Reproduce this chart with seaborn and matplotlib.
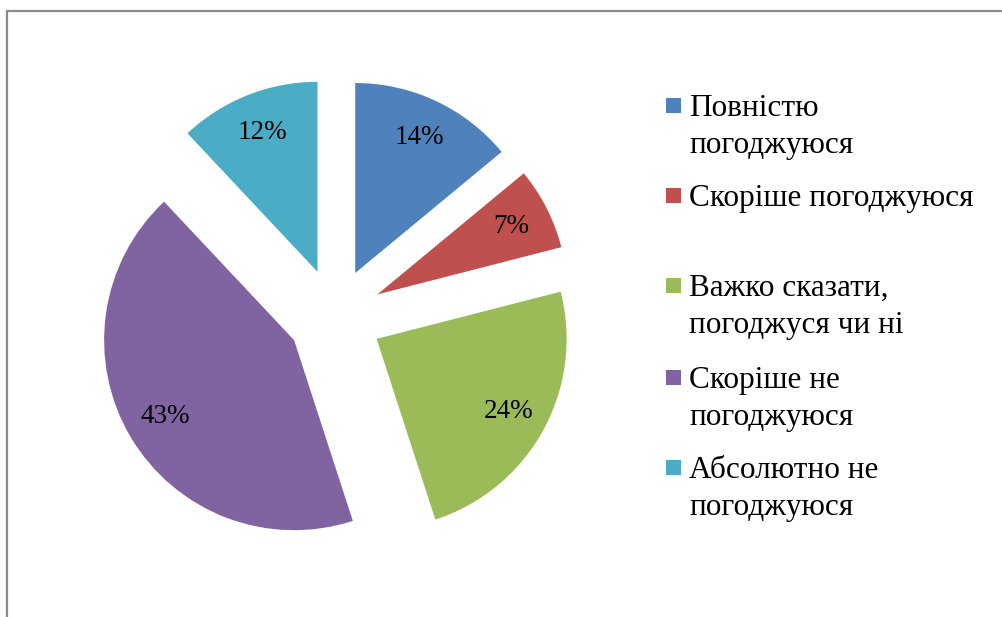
import matplotlib
matplotlib.use('Agg')
import matplotlib.pyplot as plt
from matplotlib.patches import Rectangle
from matplotlib.lines import Line2D
import seaborn as sns

# data
categories = ['Повністю\nпогоджуюся', 'Скоріше погоджуюся',
              'Важко сказати,\nпогоджуся чи ні', 'Скоріше не\nпогоджуюся',
              'Абсолютно не\nпогоджуюся']
shares = [14, 7, 24, 43, 12]
colors = ['#4F81BD', '#C0504D', '#9BBB59', '#8064A2', '#4BACC6']

sns.set_theme(style='white')
plt.rcParams['font.family'] = ['Liberation Serif', 'DejaVu Serif']
pal = sns.color_palette(colors)

W, H = 1003, 617
fig = plt.figure(figsize=(W / 100, H / 100), dpi=100)

# pie, centred at (335, 316) px from top-left, radius ~190 px
cx, cy, r = 335, 316, 190
half = 1.5 * r
ax = fig.add_axes([(cx - half) / W, (H - cy - half) / H, 2 * half / W, 2 * half / H])
wedges, texts, autotexts = ax.pie(
    shares, colors=pal, startangle=90, counterclock=False,
    explode=[0.25] * len(shares), autopct='%1.0f%%', pctdistance=0.79,
    wedgeprops=dict(linewidth=0),
    textprops=dict(fontsize=19.5, color='black'))
ax.set_xlim(-1.5, 1.5)
ax.set_ylim(-1.5, 1.5)
ax.set_aspect('equal')
ax.axis('off')

# legend drawn by hand so the squares sit on the first line of each entry
sq_centers = [105.5, 195.5, 285.5, 377.5, 467.5]
for lab, col, yc in zip(categories, pal, sq_centers):
    fig.patches.append(Rectangle((666 / W, (H - yc - 7.5) / H), 15 / W, 15 / H,
                                 transform=fig.transFigure, facecolor=col,
                                 edgecolor='none'))
    for i, line in enumerate(lab.split('\n')):
        base = yc + 10.5 + i * 36.5
        fig.text(689 / W, (H - base) / H, line, fontsize=22.5, color='black',
                 ha='left', va='baseline')

# chart border (bottom and right are cut off in the picture)
fig.lines.append(Line2D([7.5 / W, 7.5 / W], [0, (H - 11) / H],
                        transform=fig.transFigure, color='#8c8c8c', lw=1.6))
fig.lines.append(Line2D([7.5 / W, 1.0], [(H - 11) / H, (H - 11) / H],
                        transform=fig.transFigure, color='#8c8c8c', lw=1.6))

fig.savefig('out.png', dpi=100, facecolor='white')
